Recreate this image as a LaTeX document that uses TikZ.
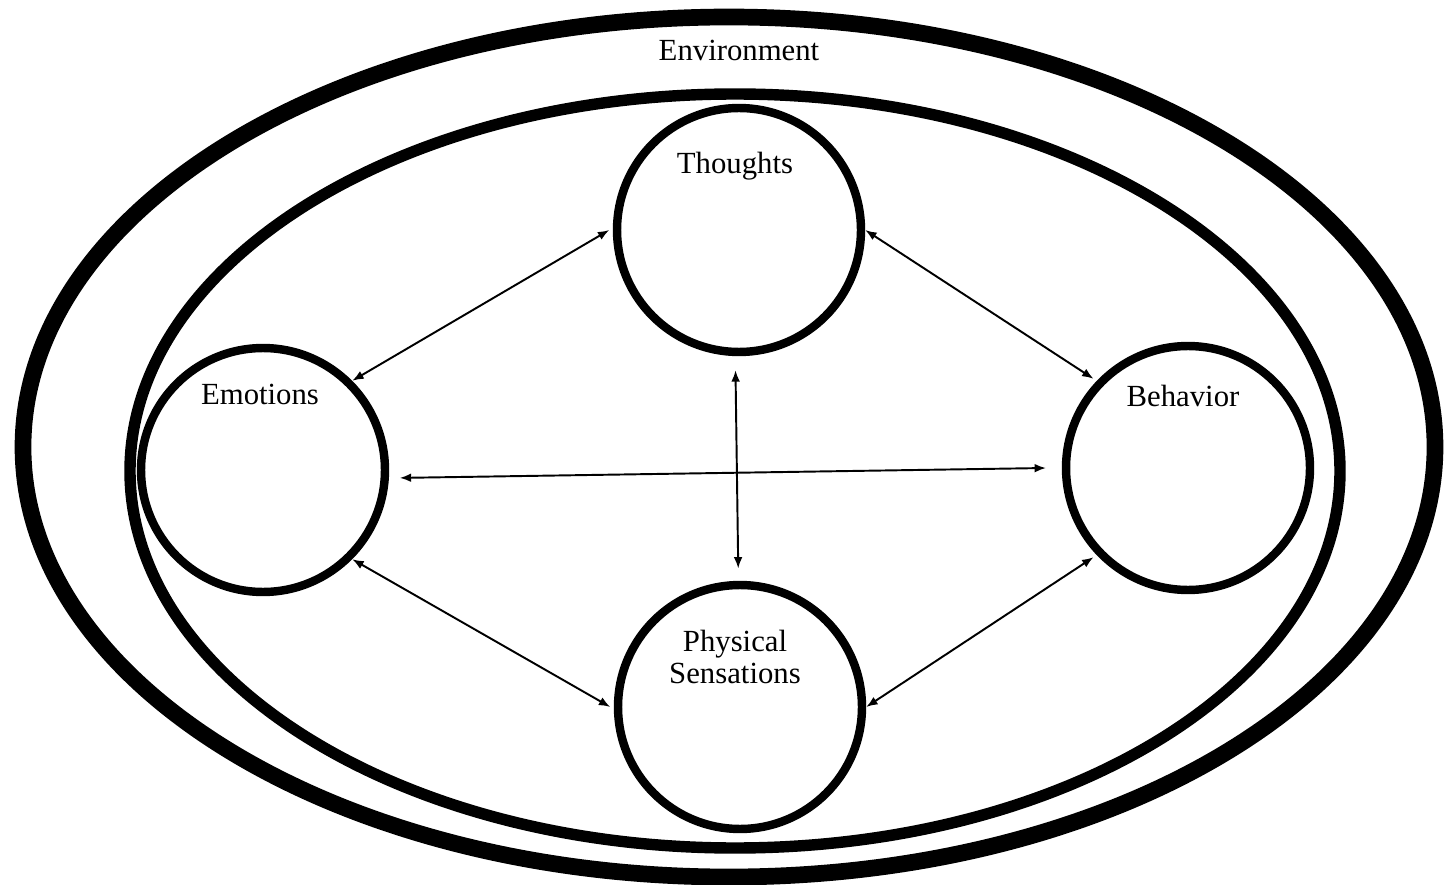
\documentclass[tikz,border=0pt]{standalone}
\usepackage{fontspec}
\setmainfont{Liberation Serif}
\usetikzlibrary{arrows.meta}

\tikzset{
   part/.style={circle,draw,line width=4.8pt,minimum size=4.88cm,inner sep=0pt},
   word/.style={font=\fontsize{17.5}{18.3}\selectfont,align=center},
   link/.style={<->,line width=1.1pt,>={Latex[length=6.5pt,width=5pt]}}
}

\begin{document}
\begin{tikzpicture}
   [x=0.02cm,y=-0.02cm]
   \useasboundingbox (0,0) rectangle (1448,885);

   % environment and person
   \draw[line width=9.5pt] (729,447) ellipse [x radius=706, y radius=430];
   \draw[line width=6.5pt] (735,471) ellipse [x radius=605, y radius=377];
   \node[word] (env) at (739,50) {Environment};

   % the four parts
   \node[part] (thoughts) at (739,230) {};
   \node[part] (emotions) at (263,470) {};
   \node[part] (behavior) at (1188,468) {};
   \node[part] (sensations) at (740,707) {};

   \node[word] (thoughtsText) at (735,166) {Thoughts};
   \node[word] (emotionsText) at (260,394) {Emotions};
   \node[word] (behaviorText) at (1183,396) {Behavior};
   \node[word] (sensationsText) at (735,657) {Physical\\Sensations};

   % links
   \draw[link] (emotions.45) -- ([xshift=-2pt]thoughts.west);
   \draw[link] (thoughts.east) -- ([xshift=-3pt]behavior.135);
   \draw[link] (emotions.-45) -- ([xshift=-2pt]sensations.west);
   \draw[link] (sensations.east) -- ([xshift=-3pt]behavior.-135);
   \draw[link] ([xshift=6pt,yshift=-4.5pt]emotions.east) -- ([xshift=-9pt]behavior.west);
   \draw[link] ([xshift=-2pt,yshift=-8pt]thoughts.south) -- ([xshift=-1pt,yshift=7pt]sensations.north);
\end{tikzpicture}
\end{document}
